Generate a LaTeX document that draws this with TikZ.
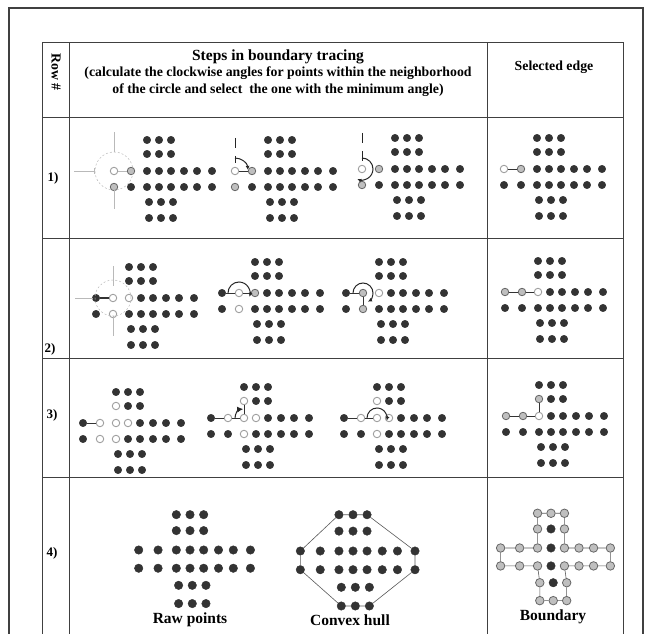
\documentclass[tikz,border=0pt]{standalone}
\usepackage{fontspec}
\setmainfont{Liberation Serif}
\usetikzlibrary{arrows.meta}

% one cross of points: #1 name, #2 x, #3 y, #4 scale
\newcommand{\crossdots}[4]{%
  \foreach \col/\dx in {a/-45,b/-28,c/-12,d/0,e/12,f/25,g/38,h/53}
    \foreach \row/\dy in {3/0,4/-16}
      \node[dot,#1-\col\row/.try] (#1-\col\row) at ({#2+#4*\dx},{#3+#4*\dy}) {};
  \foreach \col/\dx in {c/-12,d/0,e/12}
    \foreach \row/\dy/\sx in {1/31/0,2/17/0,5/-31/2,6/-47/2}
      \node[dot,#1-\col\row/.try] (#1-\col\row) at ({#2+#4*(\dx+\sx)},{#3+#4*\dy}) {};
}

\begin{document}
\begin{tikzpicture}[x=1pt, y=1pt,
  dot/.style={circle, inner sep=0pt, minimum size=7.5pt, fill=black!80, draw=black!80, line width=0.4pt},
  darkdot/.style={fill=black!80, draw=black!80, line width=0.4pt},
  opendot/.style={fill=white, draw=gray!75, line width=0.9pt},
  greydot/.style={fill=gray!50, draw=black!60, line width=0.8pt},
  edgeline/.style={draw=black!80, line width=0.8pt},
  crossline/.style={draw=gray!55, line width=0.5pt},
  ring/.style={draw=gray!55, line width=0.5pt, dash pattern=on 2pt off 2pt},
  tickline/.style={draw=black!85, line width=0.9pt, dash pattern=on 10pt off 8pt},
  sweep/.style={draw=black!85, line width=1pt, -{Latex[length=4pt, width=4pt]}},
  hullline/.style={draw=black!65, line width=0.6pt},
  refline/.style={draw=black!75, line width=0.9pt},
  headtext/.style={font=\bfseries\fontsize{13.8}{17}\selectfont},
  titletext/.style={font=\bfseries\fontsize{15.5}{17}\selectfont},
  rowno/.style={font=\bfseries\fontsize{13}{15}\selectfont}
]
\useasboundingbox (0,0) rectangle (651,633);
\clip (0,0) rectangle (651,633);

% frame and table
\draw[refline, line width=1.1pt] (9,-10) -- (9,625) -- (643,625) -- (643,-10);
\draw[refline] (42,-10) rectangle (623,591);
\draw[refline] (69,-10) -- (69,591);
\draw[refline] (487,-10) -- (487,591);
\foreach \y in {516,395,275,156}
  \draw[refline] (42,\y) -- (623,\y);

% header
\node[headtext, rotate=-90] (rowhead) at (56,561) {Row \#};
\node[titletext] (stepshead) at (278,576) {Steps in boundary tracing};
\node[headtext, align=center] (stepsnote) at (278,551) {(calculate the clockwise angles for points within the neighborhood\\of the circle and select\ \ the one with the minimum angle)};
\node[headtext] (edgehead) at (554,566) {Selected edge};

\node[rowno] (row1) at (53,455) {1)};
\node[rowno] (row2) at (50,284) {2)};
\node[rowno] (row3) at (52,218) {3)};
\node[rowno] (row4) at (52,80) {4)};

% row 1
\tikzset{p1a-a3/.style=opendot, p1a-b3/.style=greydot, p1a-a4/.style=greydot}
\crossdots{p1a}{159}{462}{1}
\draw[ring] (p1a-a3.center) circle[radius=19pt];
\draw[crossline, -{Bar[width=6pt]}] ([xshift=-40pt]p1a-a3.center) -- ([xshift=-20pt]p1a-a3.center);
\draw[crossline] ([yshift=19pt]p1a-a3.center) -- ([yshift=39pt]p1a-a3.center);
\draw[crossline] ([yshift=-18pt]p1a-a3.center) -- ([yshift=-38pt]p1a-a3.center);
\draw[crossline] (p1a-a3) -- (p1a-b3);

\tikzset{p1b-a3/.style=opendot, p1b-b3/.style=greydot, p1b-a4/.style=greydot}
\crossdots{p1b}{280}{462}{1}
\draw[edgeline] (p1b-a3) -- (p1b-b3);
\draw[tickline] ([yshift=33pt]p1b-a3.center) -- ([yshift=8pt]p1b-a3.center);
\draw[sweep] ([shift={(90:13pt)}]p1b-a3.center) arc[start angle=90, end angle=5, radius=13pt];

\tikzset{p1c-a3/.style=opendot, p1c-b3/.style=greydot, p1c-a4/.style=greydot}
\crossdots{p1c}{407}{464}{1}
\draw[tickline] ([yshift=36pt]p1c-a3.center) -- ([yshift=7pt]p1c-a3.center);
\draw[sweep] ([shift={(90:11pt)}]p1c-a3.center) arc[start angle=90, end angle=-115, radius=11pt];

\tikzset{s1-a3/.style=opendot, s1-b3/.style=greydot}
\crossdots{s1}{549}{464}{1}
\draw[edgeline] (s1-a3) -- (s1-b3);

% row 2
\tikzset{p2a-b3/.style=opendot, p2a-c3/.style=opendot, p2a-b4/.style=opendot}
\crossdots{p2a}{141}{335}{1}
\draw[ring] (p2a-b3.center) circle[radius=18pt];
\draw[crossline] ([xshift=-38pt]p2a-b3.center) -- ([xshift=-20pt]p2a-b3.center);
\draw[crossline] ([yshift=12pt]p2a-b3.center) -- ([yshift=32pt]p2a-b3.center);
\draw[crossline] ([yshift=-18pt]p2a-b3.center) -- ([yshift=-38pt]p2a-b3.center);
\draw[edgeline, line width=1.2pt] (p2a-a3) -- (p2a-b3);

\tikzset{p2b-b3/.style=opendot, p2b-c3/.style=greydot, p2b-b4/.style=opendot}
\crossdots{p2b}{267}{340}{1}
\draw[edgeline] (p2b-a3) -- (p2b-b3) -- (p2b-c3);
\draw[sweep] ([shift={(180:11pt)}]p2b-b3.center) arc[start angle=180, end angle=-20, radius=11pt];

\tikzset{p2c-b3/.style=greydot, p2c-c3/.style=opendot, p2c-b4/.style=greydot}
\crossdots{p2c}{391}{340}{1}
\draw[edgeline] (p2c-a3) -- (p2c-b3) -- (p2c-b4);
\draw[sweep] ([shift={(180:10pt)}]p2c-b3.center) arc[start angle=180, end angle=-60, radius=10pt];

\tikzset{s2-a3/.style=greydot, s2-b3/.style=greydot, s2-c3/.style=opendot}
\crossdots{s2}{550}{341}{1}
\draw[edgeline] (s2-a3) -- (s2-b3) -- (s2-c3);

% row 3
\tikzset{p3a-b3/.style=opendot, p3a-c3/.style=opendot, p3a-d3/.style=opendot,
  p3a-c2/.style=opendot, p3a-b4/.style=opendot, p3a-c4/.style=opendot}
\crossdots{p3a}{128}{210}{1}
\draw[edgeline] (p3a-a3) -- (p3a-b3);

\tikzset{p3b-b3/.style=opendot, p3b-c3/.style=opendot, p3b-d3/.style=opendot,
  p3b-c2/.style=opendot, p3b-c4/.style=opendot}
\crossdots{p3b}{256}{215}{1}
\draw[edgeline] (p3b-a3) -- (p3b-b3) -- (p3b-c3) -- (p3b-c2);
\draw[sweep, -{Latex[length=6pt, width=6pt]}] ([shift={(180:9pt)}]p3b-c3.center) arc[start angle=180, end angle=95, radius=9pt];

\tikzset{p3c-b3/.style=opendot, p3c-c3/.style=opendot, p3c-d3/.style=opendot,
  p3c-c2/.style=opendot, p3c-c4/.style=opendot}
\crossdots{p3c}{389}{215}{1}
\draw[edgeline] (p3c-a3) -- (p3c-b3) -- (p3c-c3);
\draw[sweep] ([shift={(180:10pt)}]p3c-c3.center) arc[start angle=180, end angle=-15, radius=10pt];

\tikzset{s3-a3/.style=greydot, s3-b3/.style=greydot, s3-c3/.style=opendot, s3-c2/.style=greydot}
\crossdots{s3}{551}{217}{1}
\draw[edgeline] (s3-a3) -- (s3-b3) -- (s3-c3) -- (s3-c2);

% row 4
\begin{scope}[dot/.append style={minimum size=8.5pt}]
\crossdots{raw}{190}{83}{1.14}
\crossdots{hull}{353}{82}{1.17}
\draw[hullline] (hull-c1) -- (hull-d1) -- (hull-e1) -- (hull-h3) -- (hull-h4) -- (hull-e6)
  -- (hull-d6) -- (hull-c6) -- (hull-a4) -- (hull-a3) -- (hull-c1);
\end{scope}
\begin{scope}[dot/.append style={minimum size=8.5pt, greydot}]
\tikzset{bnd-d2/.style=darkdot, bnd-d3/.style=darkdot, bnd-d4/.style=darkdot, bnd-d5/.style=darkdot}
\crossdots{bnd}{551}{85}{1.12}
\draw[hullline] (bnd-c1) -- (bnd-d1) -- (bnd-e1) -- (bnd-e2) -- (bnd-e3) -- (bnd-f3) -- (bnd-g3)
  -- (bnd-h3) -- (bnd-h4) -- (bnd-g4) -- (bnd-f4) -- (bnd-e4) -- (bnd-e5) -- (bnd-e6)
  -- (bnd-d6) -- (bnd-c6) -- (bnd-c5) -- (bnd-c4) -- (bnd-b4) -- (bnd-a4) -- (bnd-a3)
  -- (bnd-b3) -- (bnd-c3) -- (bnd-c2) -- (bnd-c1);
\end{scope}

\node[titletext] (rawcap) at (190,13) {Raw points};
\node[titletext] (hullcap) at (350,13) {Convex hull};
\node[titletext] (bndcap) at (553,16) {Boundary};
\end{tikzpicture}
\end{document}
